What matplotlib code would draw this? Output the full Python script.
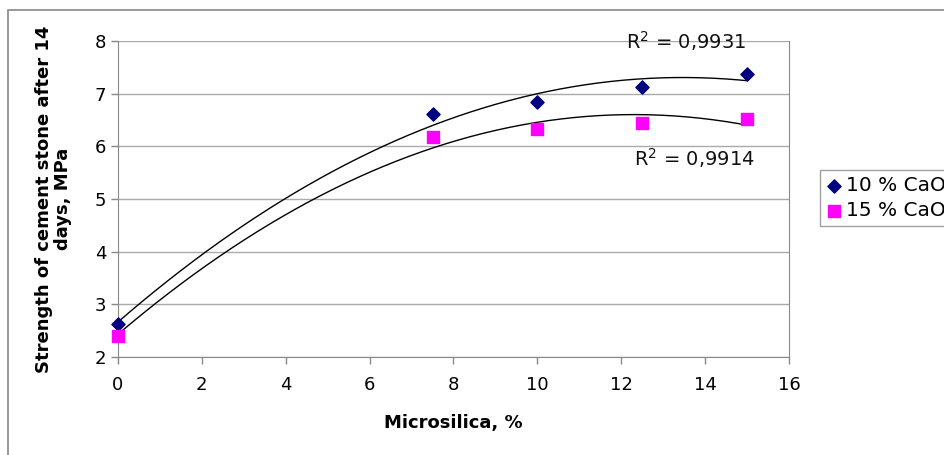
import numpy as np
import matplotlib
matplotlib.use('Agg')
from matplotlib import pyplot as plt
from matplotlib.patches import Rectangle

# данные
microsilica = [0, 7.5, 10, 12.5, 15]
strength_10 = [2.63, 6.62, 6.85, 7.12, 7.37]
strength_15 = [2.40, 6.17, 6.33, 6.44, 6.52]
series_names = ['10 % CaO', '15 % CaO']
r2_labels = ['0,9931', '0,9914']

plt.rcParams['font.family'] = ['DejaVu Sans']

fig = plt.figure(figsize=(9.45, 4.55), dpi=100)
ax = fig.add_axes([118 / 945, 1 - 357 / 455, (789 - 118) / 945, (357 - 41) / 455])

# рамка вокруг всей диаграммы
fig.patches.append(Rectangle((8 / 945, -0.05), 1.1, 1 - 10 / 455 + 0.05, transform=fig.transFigure,
                             fill=False, edgecolor='#888888', linewidth=1.2))

ax.scatter(microsilica, strength_10, marker='D', s=45, color='#000080', label=series_names[0],
           zorder=3, clip_on=False)
ax.scatter(microsilica, strength_15, marker='s', s=70, color='#ff00ff', label=series_names[1],
           zorder=3, clip_on=False)

# полиномиальные линии тренда 2-й степени, как в Excel
xs = np.linspace(0, 15, 200)
for ys in (strength_10, strength_15):
    coef = np.polyfit(microsilica, ys, 2)
    ax.plot(xs, np.polyval(coef, xs), color='black', linewidth=1.0, zorder=2)

ax.text(13.55, 8.0, 'R$^2$ = ' + r2_labels[0], fontsize=14, ha='center', va='center', color='#111111')
ax.text(13.75, 5.78, 'R$^2$ = ' + r2_labels[1], fontsize=14, ha='center', va='center', color='#111111')

ax.set_xlim(0, 16)
ax.set_ylim(2, 8)
ax.set_xticks(range(0, 17, 2))
ax.set_yticks(range(2, 9))
ax.grid(axis='y', color='#aaaaaa', linewidth=1.0)
ax.set_axisbelow(True)
ax.spines['top'].set_visible(False)
for side in ['left', 'bottom', 'right']:
    ax.spines[side].set_color('#888888')
ax.tick_params(axis='both', colors='#888888', labelcolor='black', labelsize=13, length=5, width=1)
ax.tick_params(axis='x', pad=9)

ax.set_xlabel('Microsilica, %', fontsize=13, fontweight='bold', labelpad=14)
ax.set_ylabel('Strength of cement stone after 14\ndays, MPa', fontsize=13, fontweight='bold',
              labelpad=16, linespacing=1.1)

leg = ax.legend(loc='center left', bbox_to_anchor=(820 / 945, 1 - 198 / 455), bbox_transform=fig.transFigure,
                fontsize=14.5, frameon=True, fancybox=False, handletextpad=0.2, borderpad=0.3,
                labelspacing=0.3, handlelength=0.8, borderaxespad=0)
leg.get_frame().set_edgecolor('#888888')
leg.get_frame().set_linewidth(1.0)

fig.savefig('out.png', dpi=100)
